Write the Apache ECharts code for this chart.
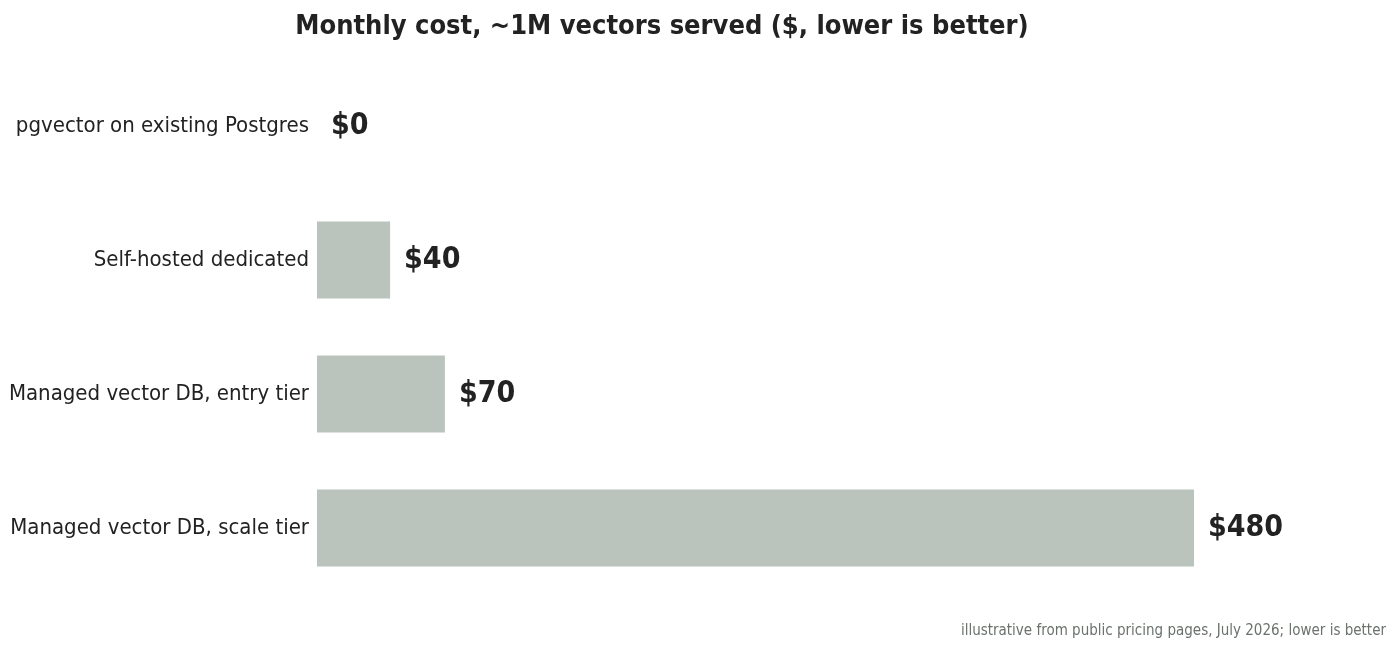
<!DOCTYPE html>
<html><head><meta charset="utf-8">
<script src="https://cdn.jsdelivr.net/npm/echarts@6/dist/echarts.min.js"></script>
<style>html,body{margin:0;background:#fff}#c{width:1400px;height:655px}</style>
</head><body><div id="c"></div>
<script>
const categories = ["pgvector on existing Postgres","Self-hosted dedicated","Managed vector DB, entry tier","Managed vector DB, scale tier"];
const values = [0, 40, 70, 480];
const F = "'DejaVu Sans Condensed','DejaVu Sans',sans-serif";
const chart = echarts.init(document.getElementById('c'));
chart.setOption({
  animation:false,
  title:{text:"Monthly cost, ~1M vectors served ($, lower is better)",left:657,textAlign:'center',top:8,
    textStyle:{fontFamily:F,fontSize:27,fontWeight:'bold',color:'#222'}},
  graphic:[{type:'text',right:14,top:624,style:{text:"illustrative from public pricing pages, July 2026; lower is better",
    font:"15px "+F,fill:'#6b726c'}}],
  grid:{left:317,right:206,top:59,bottom:60},
  xAxis:{type:'value',min:0,max:480,show:false},
  yAxis:{type:'category',data:categories,inverse:true,
    axisLine:{show:false},axisTick:{show:false},
    axisLabel:{fontFamily:F,fontSize:22,color:'#222',margin:8}},
  series:[{type:'bar',data:values,barWidth:77,
    itemStyle:{color:'#bac4bc'},
    label:{show:true,position:'right',distance:14,formatter:p=>'$'+p.value,
      fontFamily:F,fontSize:30,fontWeight:'bold',color:'#222'}}]
});
</script></body></html>
